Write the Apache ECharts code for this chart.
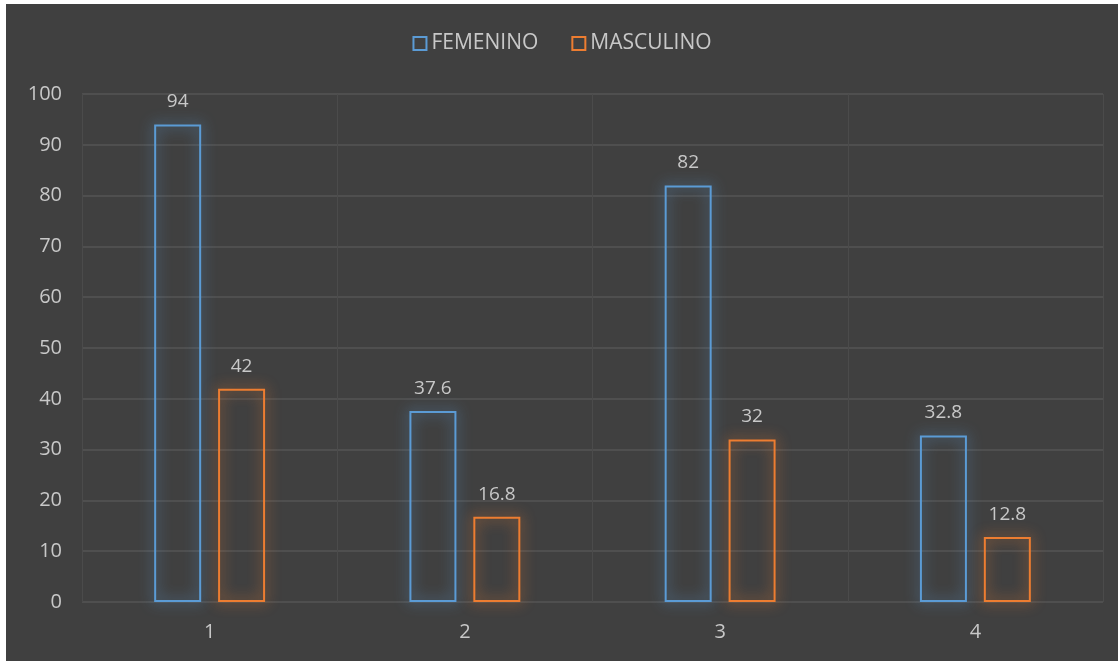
<!DOCTYPE html>
<html><head><meta charset="utf-8">
<script src="https://cdn.jsdelivr.net/npm/echarts@6/dist/echarts.min.js"></script>
<style>
html,body{margin:0;padding:0;background:#ffffff;}
#c{position:absolute;left:6px;top:4px;width:1112px;height:657px;background:#404040;}
</style></head><body>
<div id="c"></div>
<script>
const categories = ['1','2','3','4'];
const femenino = [94, 37.6, 82, 32.8];
const masculino = [42, 16.8, 32, 12.8];
const seriesNames = ['FEMENINO','MASCULINO'];

const chart = echarts.init(document.getElementById('c'));
const font = '"Open Sans", sans-serif';
const txt = '#c8c8c8';
function mk(name, data, color){
  return {
    name: name, type:'bar', data: data, barWidth: 47, barGap: '36%',
    itemStyle:{ color:'rgba(0,0,0,0)', borderColor: color, borderWidth: 2,
      shadowColor: color, shadowBlur: 14 },
    label:{ show:true, position:'top', distance:13, color: txt, fontSize:19, fontFamily:font },
    emphasis:{disabled:true}
  };
}
chart.setOption({
  backgroundColor:'#404040',
  animation:false,
  legend:{ top:24, left:'center', itemWidth:13, itemHeight:13, itemGap:33,
    textStyle:{color:txt, fontSize:21, fontFamily:font, padding:[0,0,0,0]},
    data: seriesNames.map((n,i)=>({name:n, icon:'rect', itemStyle:{color:'rgba(0,0,0,0)', borderColor: i?'#ED7D31':'#5B9BD5', borderWidth:2}}))
  },
  grid:{ left:76, right:15, top:90, bottom:59 },
  xAxis:{ type:'category', data:categories,
    axisLine:{show:false}, axisTick:{show:false},
    splitLine:{show:true, lineStyle:{color:'#4b4b4b', width:1}},
    axisLabel:{color:txt, fontSize:20, fontFamily:font, margin:20}
  },
  yAxis:{ type:'value', min:0, max:100, interval:10,
    axisLine:{show:false}, axisTick:{show:false},
    splitLine:{lineStyle:{color:'#555555', width:1.5}},
    axisLabel:{color:txt, fontSize:20, fontFamily:font, margin:20}
  },
  series:[ mk(seriesNames[0], femenino, '#5B9BD5'), mk(seriesNames[1], masculino, '#ED7D31') ]
});
</script></body></html>
